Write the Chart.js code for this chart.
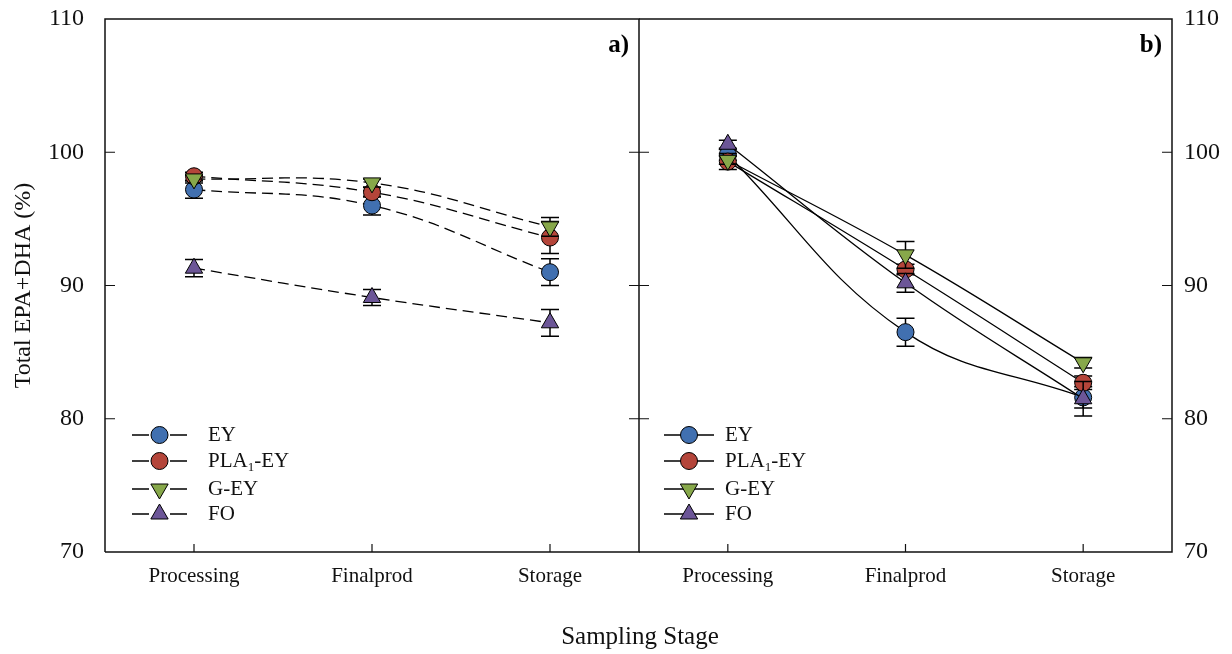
<!DOCTYPE html>
<html>
<head>
<meta charset="utf-8">
<script src="https://cdn.jsdelivr.net/npm/chart.js@4.4.0/dist/chart.umd.min.js"></script>
<style>
  body { margin: 0; background: #fff; }
  #wrap { position: relative; width: 1232px; height: 654px; overflow: hidden; }
  #chartA { position: absolute; left: 0; top: 0; }
  #chartB { position: absolute; left: 639px; top: 0; }
  #xtitle { position: absolute; left: 0; width: 1280px; top: 622px; text-align: center;
            font: 25px "Liberation Serif", "Times New Roman", serif; color: #111; }
</style>
</head>
<body>
<div id="wrap">
  <canvas id="chartA" width="640" height="654"></canvas>
  <canvas id="chartB" width="593" height="654"></canvas>
  <div id="xtitle">Sampling Stage</div>
</div>
<script>
// sampling stages and treatments
const stages = ['Processing', 'Finalprod', 'Storage'];
const groups = ['EY', 'PLA1-EY', 'G-EY', 'FO'];

// panel a) means and SD
const a_EY  = [97.2, 96.0, 91.0];
const a_PLA = [98.2, 97.0, 93.6];
const a_GEY = [98.0, 97.7, 94.4];
const a_FO  = [91.3, 89.1, 87.2];
const a_EY_err  = [0.65, 0.7, 1.0];
const a_PLA_err = [0.3, 0.35, 1.2];
const a_GEY_err = [0.3, 0.3, 0.7];
const a_FO_err  = [0.65, 0.6, 1.0];

// panel b) means and SD
const b_EY  = [99.8, 86.5, 81.6];
const b_PLA = [99.3, 91.2, 82.7];
const b_GEY = [99.4, 92.3, 84.2];
const b_FO  = [100.6, 90.2, 81.5];
const b_EY_err  = [0.4, 1.05, 0.8];
const b_PLA_err = [0.6, 0.4, 0.5];
const b_GEY_err = [0.3, 1.0, 0.4];
const b_FO_err  = [0.3, 0.7, 1.3];

const yTicks = [70, 80, 90, 100, 110];

const SERIF = '"Liberation Serif", "Times New Roman", serif';
const colors = ['#4170b0', '#b4453a', '#87a84a', '#6c5697'];
const shapes = ['circle', 'circle', 'triangle', 'triangle'];
const rotations = [0, 0, 180, 0];
const radii = [8.5, 8.5, 10, 10];

function makeDatasets(values, errors, dashed) {
  return values.map(function (v, i) {
    return {
      label: groups[i],
      data: v,
      errors: errors[i],
      borderColor: '#000',
      borderWidth: 1.3,
      borderDash: dashed ? [11, 6] : [],
      tension: 0.4,
      pointStyle: shapes[i],
      pointRotation: rotations[i],
      pointRadius: radii[i],
      pointBackgroundColor: colors[i],
      pointBorderColor: '#000',
      pointBorderWidth: 1,
      order: 4 - i
    };
  });
}

// error bars, drawn right before each dataset
const errorBars = {
  id: 'errorBars',
  beforeDatasetDraw(chart, args) {
    const ds = chart.data.datasets[args.index];
    const y = chart.scales.y;
    const ctx = chart.ctx;
    ctx.save();
    ctx.strokeStyle = '#000';
    ctx.lineWidth = 1.5;
    args.meta.data.forEach(function (pt, j) {
      const top = y.getPixelForValue(ds.data[j] + ds.errors[j]);
      const bot = y.getPixelForValue(ds.data[j] - ds.errors[j]);
      ctx.beginPath();
      ctx.moveTo(pt.x, top); ctx.lineTo(pt.x, bot);
      ctx.moveTo(pt.x - 9, top); ctx.lineTo(pt.x + 9, top);
      ctx.moveTo(pt.x - 9, bot); ctx.lineTo(pt.x + 9, bot);
      ctx.stroke();
    });
    ctx.restore();
  }
};

// frame, inward ticks, panel letter and legend
const decor = {
  id: 'decor',
  afterDraw(chart, args, opts) {
    const ctx = chart.ctx;
    const a = chart.chartArea;
    const y = chart.scales.y;
    const x = chart.scales.x;
    ctx.save();
    ctx.strokeStyle = '#111';
    ctx.lineWidth = 1.5;
    ctx.beginPath();
    if (opts.leftEdge) { ctx.moveTo(a.left, a.bottom); ctx.lineTo(a.left, a.top); }
    else { ctx.moveTo(a.left, a.top); }
    ctx.lineTo(a.right, a.top);
    ctx.lineTo(a.right, a.bottom);
    ctx.lineTo(a.left, a.bottom);
    ctx.stroke();

    ctx.lineWidth = 1.2;
    ctx.beginPath();
    yTicks.slice(1, -1).forEach(function (v) {
      const py = y.getPixelForValue(v);
      ctx.moveTo(a.left, py); ctx.lineTo(a.left + 10, py);
      ctx.moveTo(a.right, py); ctx.lineTo(a.right - 10, py);
    });
    stages.forEach(function (s, i) {
      const px = x.getPixelForValue(i);
      ctx.moveTo(px, a.bottom); ctx.lineTo(px, a.bottom - 8);
    });
    ctx.stroke();

    // panel letter
    ctx.fillStyle = '#000';
    ctx.font = 'bold 25px ' + SERIF;
    ctx.textAlign = 'right';
    ctx.textBaseline = 'middle';
    ctx.fillText(opts.letter, a.right - 10, 46);

    // legend
    const rows = [435, 461, 489, 514];
    const lx = a.left + opts.legendX;
    groups.forEach(function (g, i) {
      const ry = rows[i];
      ctx.strokeStyle = '#000';
      ctx.lineWidth = 1.3;
      ctx.beginPath();
      if (opts.dashed) {
        ctx.moveTo(lx, ry); ctx.lineTo(lx + 17, ry);
        ctx.moveTo(lx + 38, ry); ctx.lineTo(lx + 55, ry);
      } else {
        ctx.moveTo(lx, ry); ctx.lineTo(lx + 50, ry);
      }
      ctx.stroke();
      ctx.fillStyle = colors[i];
      ctx.lineWidth = 1;
      Chart.helpers.drawPoint(ctx, {
        pointStyle: shapes[i], rotation: rotations[i], radius: radii[i], borderWidth: 1
      }, lx + (opts.dashed ? 27.5 : 25), ry);

      ctx.fillStyle = '#111';
      ctx.font = '21px ' + SERIF;
      ctx.textAlign = 'left';
      ctx.textBaseline = 'middle';
      let tx = lx + opts.textGap;
      if (g === 'PLA1-EY') {
        ctx.fillText('PLA', tx, ry);
        tx += ctx.measureText('PLA').width;
        ctx.font = '13px ' + SERIF;
        ctx.fillText('1', tx, ry + 7);
        tx += ctx.measureText('1').width;
        ctx.font = '21px ' + SERIF;
        ctx.fillText('-EY', tx, ry);
      } else {
        ctx.fillText(g, tx, ry);
      }
    });
    ctx.restore();
  }
};

// keep the plot area fixed: no extra label padding from the scales
function noPad(s) {
  s.paddingLeft = 0; s.paddingRight = 0; s.paddingTop = 0; s.paddingBottom = 0;
}

function makeOptions(side, decorOpts) {
  return {
    responsive: false,
    animation: false,
    devicePixelRatio: 1,
    layout: {
      autoPadding: false,
      padding: side === 'left' ? { top: 19, right: 1, left: 0, bottom: 0 } : { top: 19, right: 0, left: 0, bottom: 0 }
    },
    scales: {
      x: {
        type: 'category',
        offset: true,
        grid: { display: false, drawTicks: false },
        border: { display: false },
        ticks: { color: '#111', font: { family: SERIF, size: 21 }, padding: 12 },
        afterFit: function (s) { s.height = 102; noPad(s); }
      },
      y: {
        position: side,
        min: 70, max: 110,
        grid: { display: false, drawTicks: false },
        border: { display: false },
        afterBuildTicks: function (s) { s.ticks = yTicks.map(function (v) { return { value: v }; }); },
        ticks: { color: '#111', font: { family: SERIF, size: 24 }, padding: side === 'left' ? 21 : 12 },
        title: side === 'left'
          ? { display: true, text: 'Total EPA+DHA (%)', color: '#111', font: { family: SERIF, size: 24 }, padding: { top: 9, bottom: 0 } }
          : { display: false },
        afterFit: function (s) { s.width = side === 'left' ? 105 : 60; noPad(s); }
      }
    },
    plugins: {
      legend: { display: false },
      tooltip: { enabled: false },
      decor: decorOpts
    }
  };
}

new Chart(document.getElementById('chartA'), {
  type: 'line',
  data: {
    labels: stages,
    datasets: makeDatasets([a_EY, a_PLA, a_GEY, a_FO], [a_EY_err, a_PLA_err, a_GEY_err, a_FO_err], true)
  },
  options: makeOptions('left', { letter: 'a)', leftEdge: true, dashed: true, legendX: 27, textGap: 76 }),
  plugins: [errorBars, decor]
});

new Chart(document.getElementById('chartB'), {
  type: 'line',
  data: {
    labels: stages,
    datasets: makeDatasets([b_EY, b_PLA, b_GEY, b_FO], [b_EY_err, b_PLA_err, b_GEY_err, b_FO_err], false)
  },
  options: makeOptions('right', { letter: 'b)', leftEdge: false, dashed: false, legendX: 25, textGap: 61 }),
  plugins: [errorBars, decor]
});
</script>
</body>
</html>
